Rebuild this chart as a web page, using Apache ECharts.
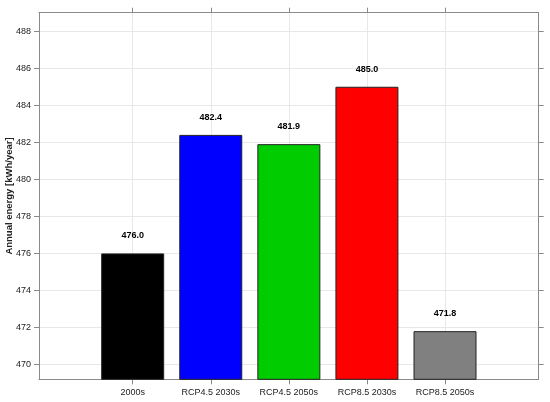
<!DOCTYPE html>
<html><head><meta charset="utf-8">
<script src="https://cdn.jsdelivr.net/npm/echarts@6/dist/echarts.min.js"></script>
<style>html,body{margin:0;padding:0;background:#fff}#c{width:550px;height:402px}</style>
</head><body><div id="c"></div>
<script>
const categories = ['2000s', 'RCP4.5 2030s', 'RCP4.5 2050s', 'RCP8.5 2030s', 'RCP8.5 2050s'];
const values = [476.0, 482.4, 481.9, 485.0, 471.8];
const barColors = ['#000000', '#0000ff', '#00cc00', '#ff0000', '#808080'];
const yTicks = [470, 472, 474, 476, 478, 480, 482, 484, 486, 488];
const yTitle = 'Annual energy [kWh/year]';

const font = "'Liberation Sans', Arial, Helvetica, sans-serif";
const idx = categories.map((c, i) => i);
const axisGray = '#8a8a8a';
const chart = echarts.init(document.getElementById('c'));
const yCommon = { type: 'value', min: 469.2, max: 489 };
const xCommon = { type: 'value', min: -1.2, max: 5.2 };
chart.setOption({
  animation: false,
  backgroundColor: '#fff',
  grid: { left: 39, top: 12.7, right: 11.3, bottom: 22.7, containLabel: false, outerBoundsMode: 'none' },
  xAxis: [
    Object.assign({}, xCommon, {
      position: 'bottom',
      axisLine: { show: true, onZero: false, lineStyle: { color: axisGray, width: 1 } },
      axisTick: { show: true, length: 5, inside: false, customValues: idx, lineStyle: { color: axisGray } },
      axisLabel: { show: true, customValues: idx, margin: 9, fontFamily: font, fontSize: 9, color: '#222',
        formatter: v => categories[Math.round(v)] },
      splitLine: { show: true, lineStyle: { color: '#e8e8e8', width: 1 } }
    }),
    Object.assign({}, xCommon, {
      position: 'top',
      axisLine: { show: true, onZero: false, lineStyle: { color: axisGray, width: 1 } },
      axisTick: { show: true, length: 5, customValues: idx, lineStyle: { color: axisGray } },
      axisLabel: { show: false },
      splitLine: { show: false }
    })
  ],
  yAxis: [
    Object.assign({}, yCommon, {
      position: 'left',
      name: yTitle, nameLocation: 'middle', nameGap: 25, nameMoveOverlap: false,
      nameTextStyle: { fontFamily: font, fontSize: 9.5, fontWeight: 'bold', color: '#222' },
      axisLine: { show: true, onZero: false, lineStyle: { color: axisGray, width: 1 } },
      axisTick: { show: true, length: 5, customValues: yTicks, lineStyle: { color: axisGray } },
      axisLabel: { show: true, customValues: yTicks, margin: 8, fontFamily: font, fontSize: 9, color: '#222' },
      splitLine: { show: true, lineStyle: { color: '#e8e8e8', width: 1 } }
    }),
    Object.assign({}, yCommon, {
      position: 'right',
      axisLine: { show: true, onZero: false, lineStyle: { color: axisGray, width: 1 } },
      axisTick: { show: true, length: 5, customValues: yTicks, lineStyle: { color: axisGray } },
      axisLabel: { show: false },
      splitLine: { show: false }
    })
  ],
  series: [{
    type: 'bar',
    xAxisIndex: 0, yAxisIndex: 0,
    barWidth: 63,
    data: values.map((v, i) => ({
      value: [i, v],
      itemStyle: { color: barColors[i], borderColor: '#222', borderWidth: 1 }
    })),
    label: {
      show: true, position: 'top', distance: 13,
      fontFamily: font, fontSize: 9, fontWeight: 'bold', color: '#000',
      formatter: p => p.value[1].toFixed(1)
    }
  }]
});
</script>
</body></html>
